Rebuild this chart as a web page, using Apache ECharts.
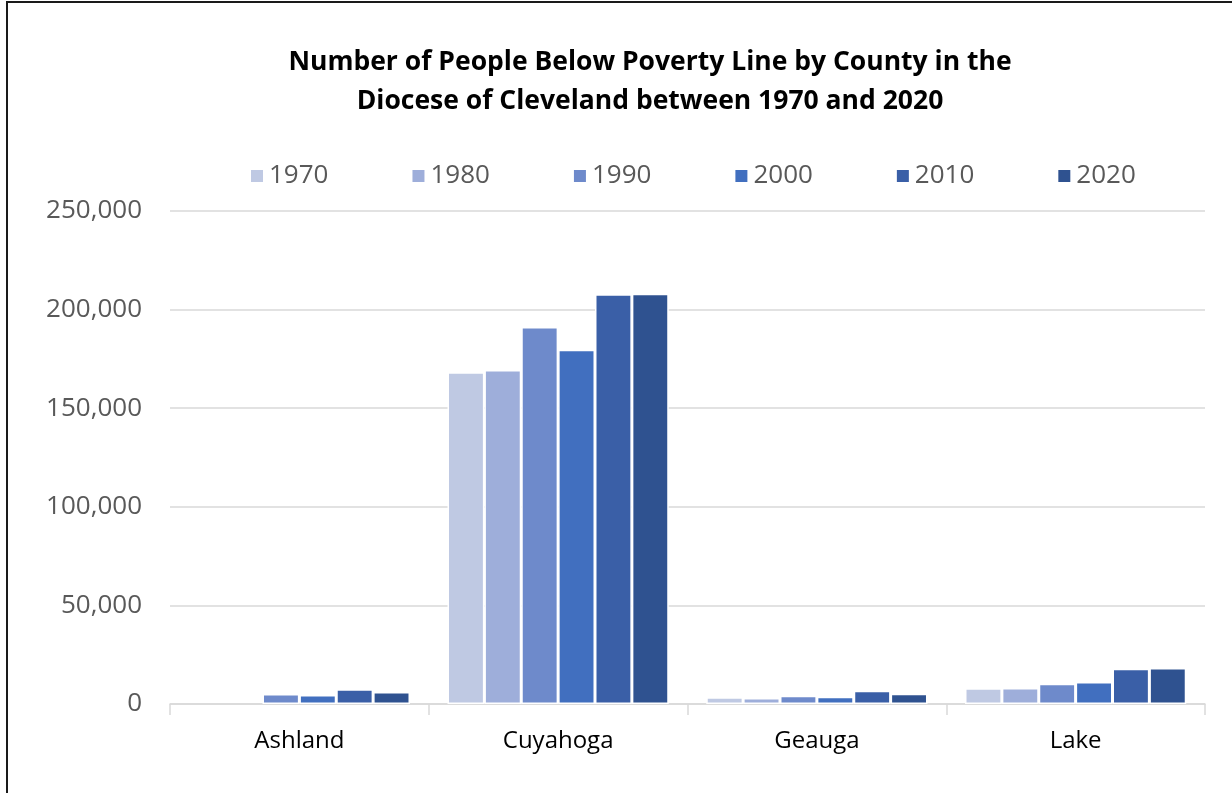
<!DOCTYPE html>
<html>
<head>
<meta charset="utf-8">
<script src="https://cdn.jsdelivr.net/npm/echarts@6/dist/echarts.min.js"></script>
<style>
  html, body { margin: 0; padding: 0; background: #fff; }
  #chart { width: 1232px; height: 793px; }
  #frame { position: absolute; left: 6px; top: 1px; width: 1240px; height: 800px;
           border-left: 2px solid #1a1a1a; border-top: 2px solid #1a1a1a; pointer-events: none; }
</style>
</head>
<body>
<div id="chart"></div>
<div id="frame"></div>
<script>
// Counties in the Diocese of Cleveland
const counties = ['Ashland', 'Cuyahoga', 'Geauga', 'Lake'];

// Census years and their bar colours
const years = ['1970', '1980', '1990', '2000', '2010', '2020'];
const yearColors = ['#BFC9E3', '#9EAEDA', '#6E8ACB', '#416FBF', '#3A5FA7', '#2F5290'];

// People below the poverty line, one array per year (Ashland, Cuyahoga, Geauga, Lake)
// Ashland has no figures for 1970 and 1980.
const pov1970 = [null, 168200, 3400, 8000];
const pov1980 = [null, 169400, 3000, 8100];
const pov1990 = [5100, 191200, 4200, 10300];
const pov2000 = [4600, 179700, 3700, 11200];
const pov2010 = [7500, 207800, 6700, 17900];
const pov2020 = [6100, 208100, 5200, 18300];

// Value-axis tick settings
const yMin = 0, yMax = 250000, yStep = 50000;

const seriesValues = [pov1970, pov1980, pov1990, pov2000, pov2010, pov2020];
const font = '"Open Sans", "Liberation Sans", sans-serif';

const chart = echarts.init(document.getElementById('chart'), null, { renderer: 'canvas' });
chart.setOption({
  animation: false,
  backgroundColor: '#ffffff',
  title: {
    text: 'Number of People Below Poverty Line by County in the\nDiocese of Cleveland between 1970 and 2020',
    left: 645,
    top: 38,
    textAlign: 'center',
    textStyle: { fontFamily: font, fontWeight: 'bold', fontSize: 26.5, lineHeight: 39, color: '#000000' }
  },
  legend: {
    data: years,
    left: 244,
    top: 158,
    itemWidth: 14,
    itemHeight: 14,
    itemGap: 82,
    icon: 'rect',
    textStyle: { fontFamily: font, fontSize: 26, color: '#595959', padding: [0, 0, 0, 0] }
  },
  grid: { left: 170, right: 27, top: 211, bottom: 89, containLabel: false },
  xAxis: {
    type: 'category',
    data: counties,
    axisLine: { lineStyle: { color: '#D9D9D9', width: 1.5 } },
    axisTick: { show: true, length: 11, lineStyle: { color: '#D9D9D9', width: 1.5 } },
    axisLabel: { fontFamily: font, fontSize: 24, color: '#000000', margin: 25 }
  },
  yAxis: {
    type: 'value',
    min: yMin,
    max: yMax,
    interval: yStep,
    axisLine: { show: false },
    axisTick: { show: false },
    splitLine: { lineStyle: { color: '#D9D9D9', width: 1.5 } },
    axisLabel: {
      fontFamily: font, fontSize: 26, color: '#595959', margin: 28,
      formatter: v => v.toLocaleString('en-US')
    }
  },
  series: years.map((yr, i) => ({
    name: yr,
    type: 'bar',
    data: seriesValues[i],
    itemStyle: { color: yearColors[i], borderColor: '#ffffff', borderWidth: 1.5 },
    barGap: '0%',
    barCategoryGap: '14.5%'
  })),
  color: yearColors
});
</script>
</body>
</html>
